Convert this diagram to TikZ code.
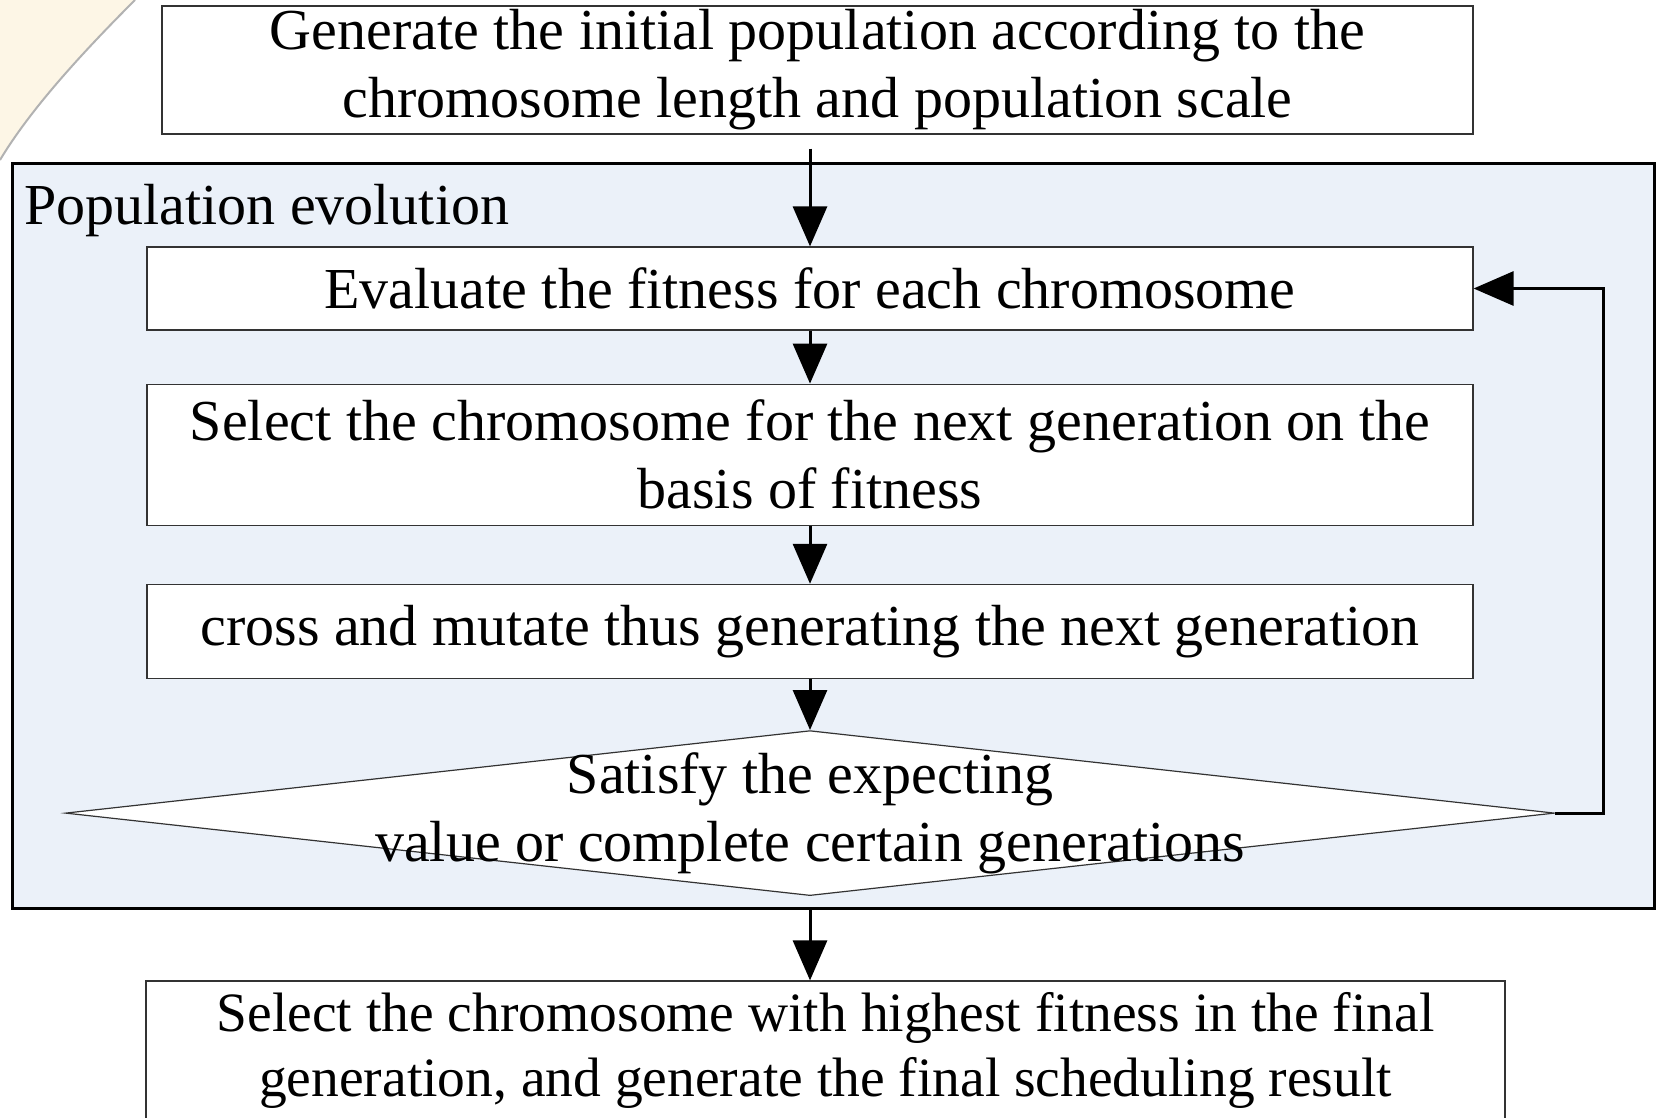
\documentclass[tikz,border=0pt]{standalone}
\usepackage{fontspec}
\setmainfont{Liberation Serif}
\usetikzlibrary{
    positioning,      % Relative positioning
    shapes.geometric, % Diamond for the test
    arrows.meta,      % Modern arrow tips
    calc              % Coordinate calculations
}
\definecolor{evolvefill}{RGB}{235,241,249}
\definecolor{cornerfill}{RGB}{253,246,230}

\begin{document}
\begin{tikzpicture}[x=1pt,y=-1pt,
    font=\fontsize{58}{68}\selectfont,
    stepbox/.style={draw=black!80,line width=1.2pt,fill=white,align=center,
        inner sep=0pt,minimum width=1326pt},
    flow/.style={line width=3pt,-{Triangle[length=40pt,width=34pt]}}]
    \useasboundingbox (0,0) rectangle (1656,1118);
    % faint slide background in the corner
    \fill[cornerfill] (0,0) -- (135,0) .. controls (80,55) and (30,110) .. (0,160) -- cycle;
    \draw[black!30,line width=2pt] (135,0) .. controls (80,55) and (30,110) .. (0,160);

    \node[stepbox,minimum width=1311pt,minimum height=128pt] (init) at (817.5,70)
        {Generate the initial population according to the\\chromosome length and population scale};

    % population evolution frame
    \draw[line width=3pt,fill=evolvefill] (12,164) rectangle (1654,908);
    \node[anchor=west,inner sep=0pt] (evolve) at (24,211) {Population evolution};

    \node[stepbox,minimum height=83pt] (eval) at (810,288.5)
        {Evaluate the fitness for each chromosome};
    \node[stepbox,minimum height=141pt,below=53pt of eval] (select)
        {Select the chromosome for the next generation on the\\basis of fitness};
    \node[stepbox,minimum height=94pt,below=58pt of select] (cross)
        {cross and mutate thus generating the next generation};
    \node[diamond,draw=black!80,line width=1.2pt,fill=white,inner sep=0pt,
        minimum width=1489pt,minimum height=165pt,below=51pt of cross] (check) {};
    \node[align=center,inner sep=0pt] (checktext) at (check)
        {Satisfy the expecting\\value or complete certain generations};

    \node[stepbox,minimum width=1359pt,minimum height=139pt,
        font=\fontsize{55.5}{65.5}\selectfont] (final) at (825.5,1050.5)
        {Select the chromosome with highest fitness in the final\\generation, and generate the final scheduling result};

    \draw[flow,shorten <=14pt] (init.south -| eval.north) -- (eval.north);
    \draw[flow] (eval) -- (select);
    \draw[flow] (select) -- (cross);
    \draw[flow] (cross) -- (check.north);
    \draw[flow] (check.east) -- ++(48,0) |- (eval.east);
    \draw[flow,shorten <=11pt] (check.south) -- (check.south |- final.north);
\end{tikzpicture}
\end{document}
